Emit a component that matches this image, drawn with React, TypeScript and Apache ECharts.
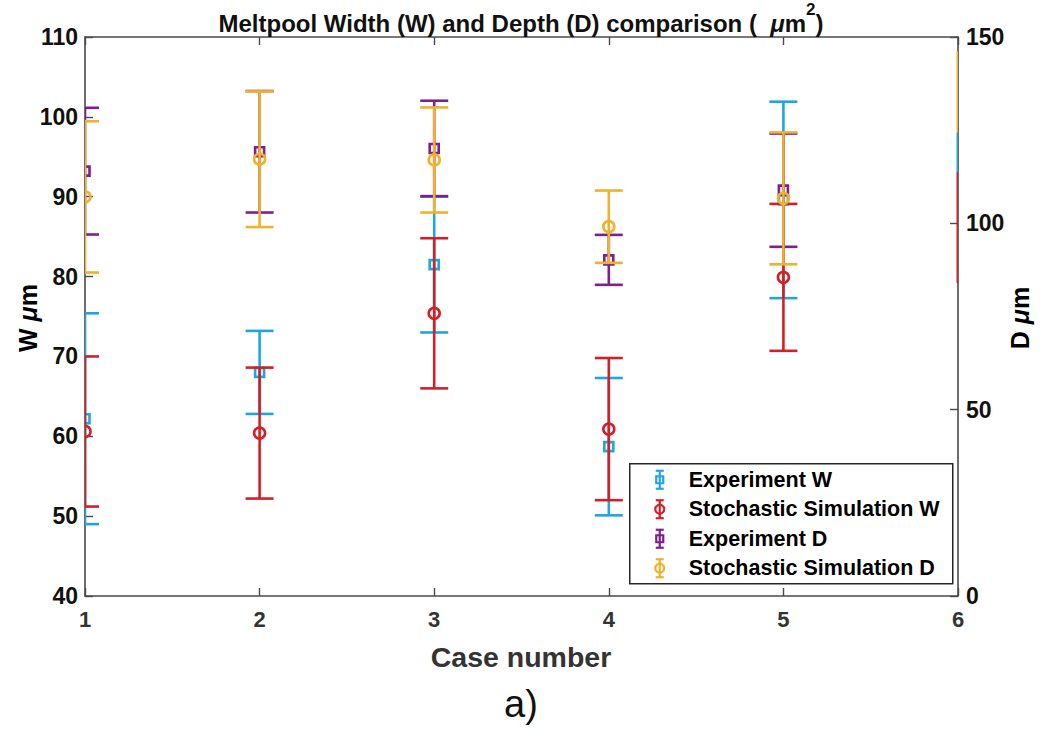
import React, { useEffect, useRef } from "react";
import * as echarts from "echarts";

// ---------- data ----------
const cases = [1, 2, 3, 4, 5];
const expW = [62.2, 68.0, 81.5, 58.7, 89.6];
const expWErr = [13.2, 5.2, 8.5, 8.6, 12.3];
const simW = [60.6, 60.4, 75.4, 60.9, 79.9];
const simWErr = [9.4, 8.2, 9.4, 8.9, 9.2];
const expD = [114.0, 119.2, 120.1, 90.2, 108.9];
const expDErr = [17.0, 16.3, 12.8, 6.7, 15.2];
const simD = [107.1, 117.2, 117.0, 99.1, 106.7];
const simDErr = [20.3, 18.2, 14.1, 9.7, 17.7];
// stray coloured segments on the right border (x = 6, left scale)
const edgeX = 6;
const edgeLow = [98.0, 93.1, 79.2];
const edgeHigh = [108.2, 98.0, 93.1];
const edgeColorIdx = [3, 0, 1];

const seriesNames = [
  "Experiment W",
  "Stochastic Simulation W",
  "Experiment D",
  "Stochastic Simulation D",
];
const colors = ["#1FA6DF", "#D41F26", "#7E1F8E", "#F0B12E"];
const shapes = ["square", "circle", "square", "circle"];

const xTicks = { min: 1, max: 6, interval: 1 };
const wTicks = { min: 40, max: 110, interval: 10 };
const dTicks = { min: 0, max: 150, interval: 50 };

const FONT = "'Liberation Sans', Arial, Helvetica, sans-serif";
const AXIS_COLOR = "#4a4a4a";

function buildData(vals: number[], errs: number[]) {
  return cases.map((c, i) => [c, vals[i], vals[i] - errs[i], vals[i] + errs[i]]);
}

function errRender(shape: string, color: string) {
  return (params: any, api: any) => {
    const x = api.value(0);
    const y = api.value(1);
    const lo = api.value(2);
    const hi = api.value(3);
    const pc = api.coord([x, y]);
    const pl = api.coord([x, lo]);
    const ph = api.coord([x, hi]);
    const hw = 14;
    const ls = { stroke: color, lineWidth: 2.6, fill: "none" };
    const children: any[] = [
      { type: "line", shape: { x1: pc[0], y1: pl[1], x2: pc[0], y2: ph[1] }, style: ls },
      { type: "line", shape: { x1: pc[0] - hw, y1: ph[1], x2: pc[0] + hw, y2: ph[1] }, style: ls },
      { type: "line", shape: { x1: pc[0] - hw, y1: pl[1], x2: pc[0] + hw, y2: pl[1] }, style: ls },
    ];
    if (shape === "square") {
      children.push({
        type: "rect",
        shape: { x: pc[0] - 4.5, y: pc[1] - 4.5, width: 9, height: 9 },
        style: { stroke: color, lineWidth: 2.6, fill: "none" },
      });
    } else {
      children.push({
        type: "circle",
        shape: { cx: pc[0], cy: pc[1], r: 5.5 },
        style: { stroke: color, lineWidth: 2.6, fill: "none" },
      });
    }
    return { type: "group", children };
  };
}

function edgeRender(params: any, api: any) {
  const x = api.value(0);
  const lo = api.coord([x, api.value(1)]);
  const hi = api.coord([x, api.value(2)]);
  const color = colors[api.value(3)];
  return {
    type: "line",
    shape: { x1: lo[0], y1: lo[1], x2: hi[0], y2: hi[1] },
    style: { stroke: color, lineWidth: 3 },
  };
}

function legendGraphic() {
  const items: any[] = [
    {
      type: "rect",
      shape: { x: 0, y: 0, width: 323, height: 120 },
      style: { fill: "#ffffff", stroke: "#262626", lineWidth: 1.5 },
    },
  ];
  seriesNames.forEach((name, i) => {
    const cy = 16 + i * 29.5;
    const cx = 30;
    const c = colors[i];
    const st = { stroke: c, lineWidth: 2.2, fill: "none" };
    items.push(
      { type: "line", shape: { x1: cx, y1: cy - 9, x2: cx, y2: cy + 9 }, style: st },
      { type: "line", shape: { x1: cx - 4, y1: cy - 9, x2: cx + 4, y2: cy - 9 }, style: st },
      { type: "line", shape: { x1: cx - 4, y1: cy + 9, x2: cx + 4, y2: cy + 9 }, style: st },
      shapes[i] === "square"
        ? { type: "rect", shape: { x: cx - 3.5, y: cy - 3.5, width: 7, height: 7 }, style: st }
        : { type: "circle", shape: { cx, cy, r: 4.5 }, style: st },
      {
        type: "text",
        x: 59,
        y: cy,
        style: {
          text: name,
          fontFamily: FONT,
          fontSize: 21.5,
          fontWeight: "bold",
          fill: "#000",
          verticalAlign: "middle",
          align: "left",
        },
      }
    );
  });
  return { type: "group", left: 629, top: 463, z: 100, children: items };
}

export default function App() {
  const ref = useRef<HTMLDivElement>(null);
  useEffect(() => {
    if (!ref.current) return;
    const chart = echarts.init(ref.current, null, { renderer: "svg" });
    const axisLine = { show: true, lineStyle: { color: AXIS_COLOR, width: 1.6 } };
    const tick = { show: true, inside: true, length: 8, lineStyle: { color: AXIS_COLOR, width: 1.4 } };
    const tickLabel = { fontFamily: FONT, fontSize: 23, fontWeight: "bold", color: "#111" };
    const option: any = {
      animation: false,
      backgroundColor: "#ffffff",
      grid: { left: 85, right: 84, top: 37, bottom: 133, containLabel: false },
      xAxis: [
        {
          type: "value",
          position: "bottom",
          ...xTicks,
          axisLine,
          axisTick: tick,
          splitLine: { show: false },
          axisLabel: { ...tickLabel, fontSize: 22, color: "#333", margin: 12 },
        },
        {
          type: "value",
          position: "top",
          ...xTicks,
          axisLine,
          axisTick: tick,
          splitLine: { show: false },
          axisLabel: { show: false },
        },
      ],
      yAxis: [
        {
          type: "value",
          position: "left",
          ...wTicks,
          axisLine,
          axisTick: tick,
          splitLine: { show: false },
          axisLabel: { ...tickLabel, margin: 7 },
        },
        {
          type: "value",
          position: "right",
          ...dTicks,
          axisLine,
          axisTick: tick,
          splitLine: { show: false },
          axisLabel: { ...tickLabel, margin: 8 },
        },
      ],
      series: [
        {
          type: "custom",
          name: "edge",
          clip: true,
          xAxisIndex: 0,
          yAxisIndex: 0,
          renderItem: edgeRender,
          data: edgeLow.map((lo, i) => [edgeX, lo, edgeHigh[i], edgeColorIdx[i]]),
          encode: { x: 0, y: [1, 2] },
        },
        {
          type: "custom",
          name: seriesNames[0],
          clip: true,
          yAxisIndex: 0,
          renderItem: errRender(shapes[0], colors[0]),
          data: buildData(expW, expWErr),
          encode: { x: 0, y: [1, 2, 3] },
        },
        {
          type: "custom",
          name: seriesNames[1],
          clip: true,
          yAxisIndex: 0,
          renderItem: errRender(shapes[1], colors[1]),
          data: buildData(simW, simWErr),
          encode: { x: 0, y: [1, 2, 3] },
        },
        {
          type: "custom",
          name: seriesNames[2],
          clip: true,
          yAxisIndex: 1,
          renderItem: errRender(shapes[2], colors[2]),
          data: buildData(expD, expDErr),
          encode: { x: 0, y: [1, 2, 3] },
        },
        {
          type: "custom",
          name: seriesNames[3],
          clip: true,
          yAxisIndex: 1,
          renderItem: errRender(shapes[3], colors[3]),
          data: buildData(simD, simDErr),
          encode: { x: 0, y: [1, 2, 3] },
        },
      ],
      graphic: [
        {
          type: "text",
          left: "center",
          top: 1,
          z: 100,
          style: {
            text: "{n|Meltpool Width (W) and Depth (D) comparison (  }{mu|μ}{n|m}{sup|2}{n|)}",
            fontFamily: FONT,
            rich: {
              n: { fontFamily: FONT, fontSize: 24, fontWeight: "bold", fill: "#111", lineHeight: 34, verticalAlign: "bottom" },
              mu: { fontFamily: FONT, fontSize: 24, fontStyle: "italic", fontWeight: "bold", fill: "#111", lineHeight: 34, verticalAlign: "bottom" },
              sup: { fontFamily: FONT, fontSize: 17, fontWeight: "bold", fill: "#111", lineHeight: 34, verticalAlign: "top" },
            },
          },
        },
        {
          type: "text",
          x: 28,
          y: 318,
          rotation: Math.PI / 2,
          z: 100,
          style: {
            text: "{b|W }{mu|μ}{b|m}",
            align: "center",
            verticalAlign: "middle",
            rich: {
              b: { fontFamily: FONT, fontSize: 25, fontWeight: "bold", fill: "#000" },
              mu: { fontFamily: FONT, fontSize: 25, fontStyle: "italic", fontWeight: "bold", fill: "#000" },
            },
          },
        },
        {
          type: "text",
          x: 1020,
          y: 318,
          rotation: Math.PI / 2,
          z: 100,
          style: {
            text: "{b|D }{mu|μ}{b|m}",
            align: "center",
            verticalAlign: "middle",
            rich: {
              b: { fontFamily: FONT, fontSize: 25, fontWeight: "bold", fill: "#000" },
              mu: { fontFamily: FONT, fontSize: 25, fontStyle: "italic", fontWeight: "bold", fill: "#000" },
            },
          },
        },
        {
          type: "text",
          x: 521,
          y: 657,
          z: 100,
          style: {
            text: "Case number",
            fontFamily: FONT,
            fontSize: 28.5,
            fontWeight: "bold",
            fill: "#333",
            align: "center",
            verticalAlign: "middle",
          },
        },
        {
          type: "text",
          x: 521,
          y: 704,
          z: 100,
          style: {
            text: "a)",
            fontFamily: FONT,
            fontSize: 38,
            fill: "#111",
            align: "center",
            verticalAlign: "middle",
          },
        },
        legendGraphic(),
      ],
    };
    chart.setOption(option);
    return () => chart.dispose();
  }, []);
  return (
    <div
      ref={ref}
      style={{ position: "absolute", left: 0, top: 0, width: 1042, height: 729 }}
    />
  );
}
